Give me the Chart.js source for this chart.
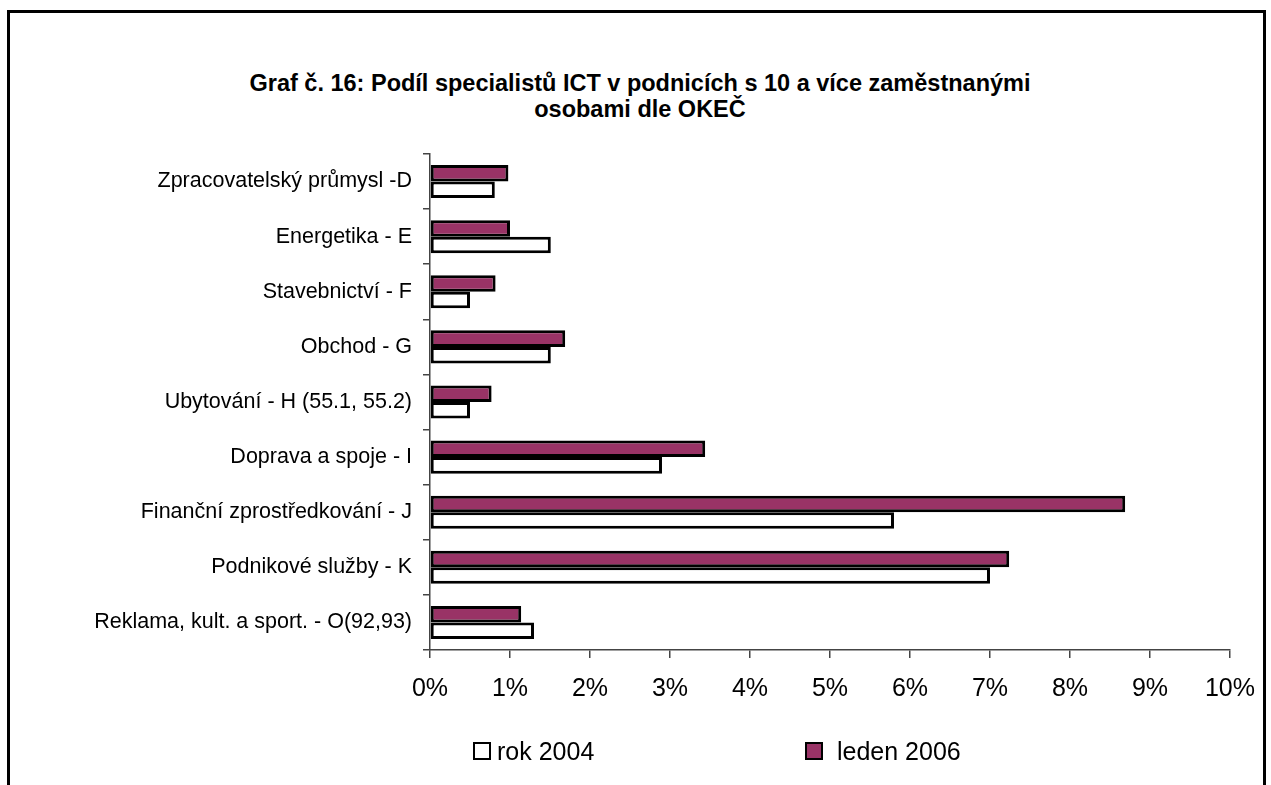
<!DOCTYPE html>
<html>
<head>
<meta charset="utf-8">
<script src="https://cdn.jsdelivr.net/npm/chart.js@4.4.1/dist/chart.umd.min.js"></script>
<style>
  html, body { margin: 0; padding: 0; background: #fff; }
  body { width: 1271px; height: 785px; position: relative; overflow: hidden; font-family: Arial, "Liberation Sans", sans-serif; }
  #frame { position: absolute; left: 7px; top: 10px; width: 1253px; height: 800px; border: 3px solid #000; border-bottom: none; }
  #title { position: absolute; left: 0; width: 1280px; top: 70px; text-align: center; font-weight: bold; font-size: 23.5px; line-height: 26px; color: #000; }
  #wrap { position: absolute; left: 0; top: 0; width: 1271px; height: 785px; }
  .leg { position: absolute; top: 736px; font-size: 25px; line-height: 30px; color: #000; }
  .leg i { position: absolute; top: 6px; width: 14px; height: 14px; border: 2px solid #000; }
</style>
</head>
<body>
<div id="frame"></div>
<div id="title">Graf č. 16: Podíl specialistů ICT v podnicích s 10 a více zaměstnanými<br>osobami dle OKEČ</div>
<div id="wrap"><canvas id="c" width="1271" height="785"></canvas></div>
<div class="leg" style="left:473px"><i style="left:0;background:#fff"></i><span style="margin-left:24px">rok 2004</span></div>
<div class="leg" style="left:805px"><i style="left:0;background:#993366"></i><span style="margin-left:32px">leden 2006</span></div>
<script>
const categories = [
  'Zpracovatelský průmysl -D',
  'Energetika - E',
  'Stavebnictví - F',
  'Obchod - G',
  'Ubytování - H (55.1, 55.2)',
  'Doprava a spoje - I',
  'Finanční zprostředkování - J',
  'Podnikové služby - K',
  'Reklama, kult. a sport. - O(92,93)'
];
const rok2004 = [0.81, 1.51, 0.50, 1.51, 0.50, 2.90, 5.80, 7.00, 1.30];
const leden2006 = [0.98, 1.00, 0.82, 1.69, 0.77, 3.44, 8.69, 7.24, 1.14];
const xTicks = [0, 1, 2, 3, 4, 5, 6, 7, 8, 9, 10];

const font = 'Arial, "Liberation Sans", sans-serif';

new Chart(document.getElementById('c'), {
  type: 'bar',
  data: {
    labels: categories,
    datasets: [
      { label: 'leden 2006', data: leden2006, backgroundColor: '#993366', borderColor: '#000', borderWidth: 3, borderSkipped: false },
      { label: 'rok 2004', data: rok2004, backgroundColor: '#fff', borderColor: '#000', borderWidth: 3, borderSkipped: false }
    ]
  },
  options: {
    indexAxis: 'y',
    responsive: false,
    animation: false,
    events: [],
    barPercentage: 1,
    categoryPercentage: 0.6,
    layout: { padding: { left: 0, right: 40, top: 154, bottom: 0 } },
    plugins: { legend: { display: false }, title: { display: false }, tooltip: { enabled: false } },
    scales: {
      x: {
        min: 0, max: 10,
        afterFit: (s) => { s.height = 135; },
        afterBuildTicks: (s) => { s.ticks = xTicks.map(v => ({ value: v })); },
        grid: { drawOnChartArea: false, drawTicks: true, tickLength: 8, color: '#444', lineWidth: 1.5 },
        border: { display: true, color: '#444', width: 1.5 },
        ticks: { padding: 16, color: '#000', font: { family: font, size: 25 }, callback: (v) => v + '%' }
      },
      y: {
        afterFit: (s) => { s.width = 430; },
        grid: { drawOnChartArea: false, drawTicks: true, tickLength: 7, color: '#444', lineWidth: 1.5 },
        border: { display: true, color: '#444', width: 1.5 },
        ticks: { padding: 11, color: '#000', font: { family: font, size: 21.5 } }
      }
    }
  }
});
</script>
</body>
</html>
